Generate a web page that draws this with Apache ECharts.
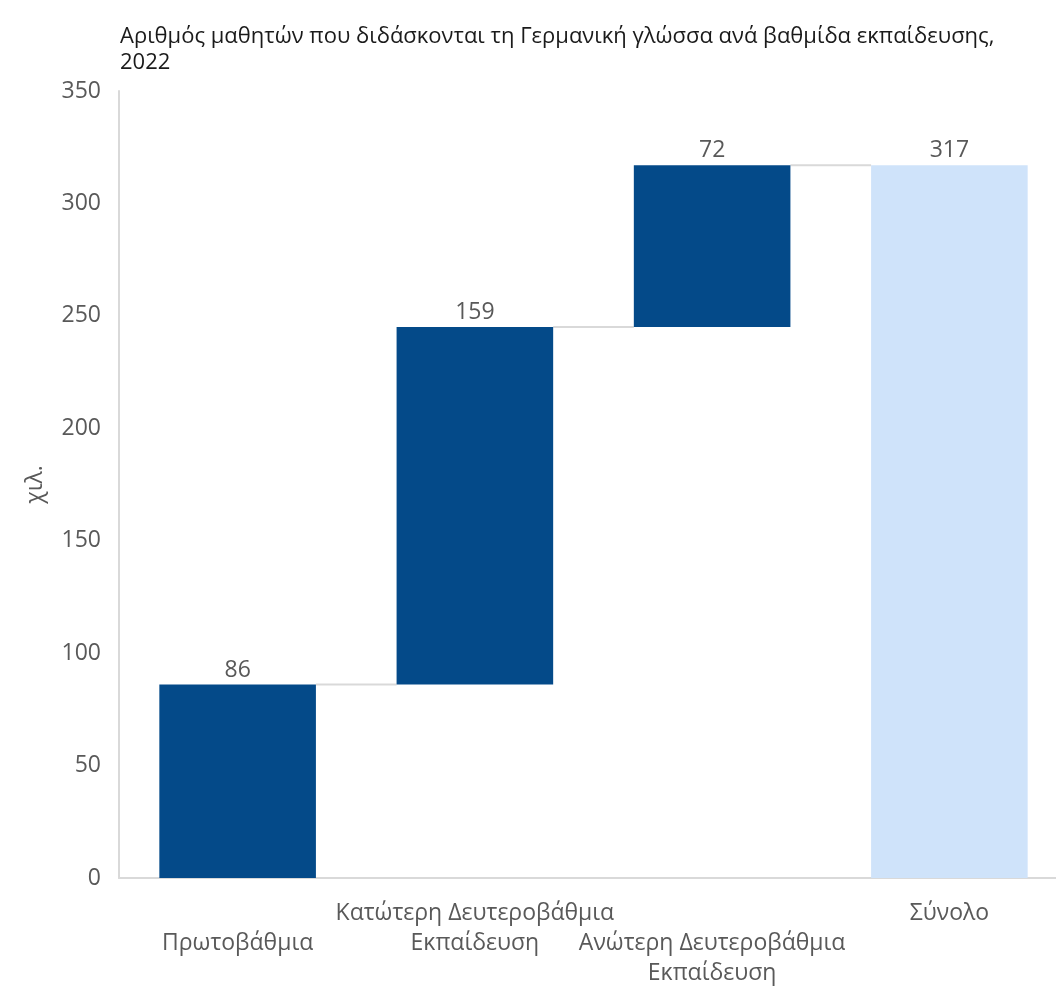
<!DOCTYPE html>
<html>
<head>
<meta charset="utf-8">
<script src="https://cdn.jsdelivr.net/npm/echarts@6/dist/echarts.min.js"></script>
<style>
html,body{margin:0;padding:0;background:#fff;}
#chart{width:1056px;height:987px;}
</style>
</head>
<body>
<div id="chart"></div>
<script>
var titleText = 'Αριθμός μαθητών που διδάσκονται τη Γερμανική γλώσσα ανά βαθμίδα εκπαίδευσης,\n2022';
var categories = ['Πρωτοβάθμια', 'Κατώτερη Δευτεροβάθμια Εκπαίδευση', 'Ανώτερη Δευτεροβάθμια Εκπαίδευση', 'Σύνολο'];
var steps = [86, 159, 72];
var total = 317;
var yTicks = {min: 0, max: 350, interval: 50};
var unitName = 'χιλ.';

// build waterfall helper arrays from the data
var bases = [], tops = [], amounts = [];
var run = 0;
steps.forEach(function (v) { bases.push(run); run += v; tops.push(run); amounts.push(v); });
bases.push(0); tops.push(total); amounts.push(total);

var fontFam = '"Open Sans", "Noto Sans", sans-serif';
var barFrac = 0.66;

var chart = echarts.init(document.getElementById('chart'));
chart.setOption({
  animation: false,
  title: {
    text: titleText,
    left: 115, top: 19,
    textStyle: {fontFamily: fontFam, fontSize: 22, fontWeight: 'normal', color: '#1a1a1a', lineHeight: 26}
  },
  grid: {left: 119, width: 949, top: 91, bottom: 109, containLabel: false, outerBoundsMode: 'none'},
  xAxis: {
    type: 'category',
    data: categories,
    axisLine: {show: true, lineStyle: {color: '#d9d9d9', width: 2}},
    axisTick: {show: false},
    axisLabel: {
      interval: 0,
      margin: 20,
      fontFamily: fontFam, fontSize: 23, color: '#595959', lineHeight: 30, align: 'center',
      formatter: function (val, idx) {
        var s = val.replace(' Εκπαίδευση', '\nΕκπαίδευση');
        return (idx % 2 === 0 ? '\n' : '') + s;
      }
    }
  },
  yAxis: {
    type: 'value',
    min: yTicks.min, max: yTicks.max, interval: yTicks.interval,
    name: unitName,
    nameLocation: 'middle',
    nameGap: 72,
    nameRotate: 90,
    nameTextStyle: {fontFamily: fontFam, fontSize: 23, color: '#595959'},
    axisLine: {show: true, lineStyle: {color: '#d9d9d9', width: 2}},
    axisTick: {show: false},
    splitLine: {show: false},
    axisLabel: {margin: 18, fontFamily: fontFam, fontSize: 23, color: '#595959'}
  },
  series: [
    {
      type: 'custom',
      z: 1,
      data: tops.slice(0, tops.length - 1).map(function (t, i) { return [i, t]; }),
      renderItem: function (params, api) {
        var i = api.value(0), v = api.value(1);
        var w = api.size([1, 0])[0];
        var p1 = api.coord([i, v]);
        var p2 = api.coord([i + 1, v]);
        return {
          type: 'line',
          shape: {x1: p1[0] + w * barFrac / 2, y1: p1[1], x2: p2[0] - w * barFrac / 2, y2: p2[1]},
          style: {stroke: '#d9d9d9', lineWidth: 2}
        };
      }
    },
    {
      type: 'custom',
      z: 2,
      data: categories.map(function (c, i) { return [i, bases[i], tops[i], amounts[i]]; }),
      renderItem: function (params, api) {
        var i = api.value(0);
        var b = api.coord([i, api.value(1)]);
        var t = api.coord([i, api.value(2)]);
        var w = api.size([1, 0])[0] * barFrac;
        var isTotal = i === categories.length - 1;
        return {
          type: 'group',
          children: [
            {
              type: 'rect',
              shape: {x: b[0] - w / 2, y: t[1], width: w, height: b[1] - t[1]},
              style: {fill: isTotal ? '#cfe3fa' : '#044a89'}
            },
            {
              type: 'text',
              style: {
                text: String(api.value(3)),
                x: t[0], y: t[1] - 3,
                align: 'center', verticalAlign: 'bottom',
                font: '23px ' + fontFam,
                fill: '#595959'
              }
            }
          ]
        };
      }
    }
  ]
});
</script>
</body>
</html>
